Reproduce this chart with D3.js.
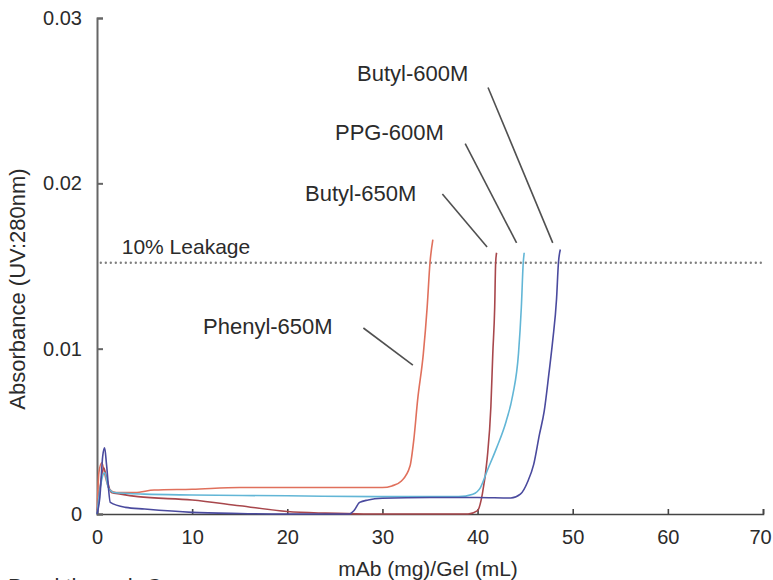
<!DOCTYPE html>
<html>
<head>
<meta charset="utf-8">
<script src="https://cdn.jsdelivr.net/npm/d3@7"></script>
<style>
  body { margin: 0; background: #fff; }
  svg { display: block; font-family: "Liberation Sans", Arial, sans-serif; }
</style>
</head>
<body>
<div id="chart"></div>
<script>
// x = mAb (mg)/Gel (mL), y = absorbance
const xTicks = [0, 10, 20, 30, 40, 50, 60, 70];
const yTicks = [0, 0.01, 0.02, 0.03];
const yTickLabels = ["0", "0.01", "0.02", "0.03"];
const leakage = 0.0152;

const phenyl650X = [0, 0.2, 0.5, 0.9, 1.3, 2, 4, 6, 10, 15, 20, 25, 30, 31, 32, 32.9, 33.3, 33.7, 34.3, 34.7, 35.0, 35.3];
const phenyl650Y = [0, 0.0025, 0.0031, 0.0022, 0.0015, 0.0013, 0.0013, 0.00145, 0.0015, 0.0016, 0.0016, 0.0016, 0.0016, 0.0017, 0.0020, 0.0029, 0.0045, 0.0069, 0.0097, 0.0125, 0.0152, 0.0166];

const butyl650X = [0, 0.3, 0.7, 1.0, 1.5, 2.5, 4.3, 10, 15, 20, 24, 28, 35, 39, 40, 40.5, 41, 41.4, 41.6, 41.8, 41.9, 42.0];
const butyl650Y = [0, 0.0015, 0.0028, 0.0022, 0.0013, 0.0012, 0.00105, 0.00085, 0.0005, 0.00015, 0.00005, 0, 0, 0, 0.0002, 0.0012, 0.0033, 0.0065, 0.0097, 0.0125, 0.0152, 0.0158];

const ppg600X = [0, 0.4, 0.8, 1.2, 1.8, 5, 10, 20, 30, 38, 39.5, 40.3, 41, 42, 43.0, 43.7, 44.3, 44.6, 44.8, 44.9];
const ppg600Y = [0, 0.0018, 0.0025, 0.0016, 0.0013, 0.0012, 0.00115, 0.0011, 0.00105, 0.00105, 0.0012, 0.0016, 0.0026, 0.0040, 0.0056, 0.0072, 0.0097, 0.0125, 0.0152, 0.0158];

const butyl600X = [0, 0.3, 0.6, 0.8, 1.0, 1.4, 3, 5, 10, 15, 20, 26.5, 27, 27.6, 28.5, 30, 35, 40, 43.5, 44.5, 45.3, 45.9, 46.5, 47, 47.5, 47.9, 48.3, 48.5, 48.7];
const butyl600Y = [0, 0.001, 0.0035, 0.004, 0.003, 0.0007, 0.0004, 0.0003, 0.0001, 0.00003, 0, 0, 0.0002, 0.0007, 0.00085, 0.00095, 0.001, 0.001, 0.00097, 0.0012, 0.002, 0.003, 0.0048, 0.0062, 0.0085, 0.0105, 0.013, 0.0152, 0.016];

const seriesNames = ["Phenyl-650M", "Butyl-650M", "PPG-600M", "Butyl-600M"];
const seriesX = [phenyl650X, butyl650X, ppg600X, butyl600X];
const seriesY = [phenyl650Y, butyl650Y, ppg600Y, butyl600Y];
const seriesColors = ["#e0705c", "#a8474c", "#62b6d6", "#4a4a9e"];

const width = 773, height = 580;
const margin = { top: 18, right: 10, bottom: 66, left: 97 };

const svg = d3.select("#chart").append("svg")
    .attr("width", width)
    .attr("height", height);

const x = d3.scaleLinear().domain([0, 70]).range([margin.left, 763]);
const y = d3.scaleLinear().domain([0, 0.03]).range([height - margin.bottom, margin.top]);

// axes
const xAxis = svg.append("g")
    .attr("class", "x-axis")
    .attr("transform", `translate(0,${y(0)})`)
    .call(d3.axisBottom(x).tickValues(xTicks).tickSize(-5).tickPadding(16).tickFormat(d3.format("d")));

const yAxis = svg.append("g")
    .attr("class", "y-axis")
    .attr("transform", `translate(${x(0)},0)`)
    .call(d3.axisLeft(y).tickValues(yTicks).tickSize(-6).tickPadding(15).tickFormat((d, i) => yTickLabels[i]));

svg.selectAll(".x-axis path, .x-axis line").attr("stroke", "#444").attr("stroke-width", 1.6);
svg.selectAll(".y-axis path, .y-axis line").attr("stroke", "#666").attr("stroke-width", 2);
svg.selectAll(".x-axis text, .y-axis text")
    .attr("fill", "#2b2b2b")
    .attr("font-size", "20px")
    .attr("font-family", "Liberation Sans, Arial, sans-serif");

// last x label sits right at the edge of the picture
xAxis.selectAll(".tick text").filter(d => d === 70).attr("dx", "-3");

// 10% leakage line
svg.append("line")
    .attr("x1", x(0.4))
    .attr("x2", x(70))
    .attr("y1", y(leakage))
    .attr("y2", y(leakage))
    .attr("stroke", "#808080")
    .attr("stroke-width", 2.4)
    .attr("stroke-linecap", "round")
    .attr("stroke-dasharray", "0,5");

svg.append("text")
    .attr("x", x(2.6))
    .attr("y", y(leakage) - 9)
    .attr("font-size", "21px")
    .attr("fill", "#2b2b2b")
    .text("10% Leakage");

// curves
const line = d3.line()
    .x(d => x(d[0]))
    .y(d => y(d[1]))
    .curve(d3.curveMonotoneX);

seriesNames.forEach((name, i) => {
    svg.append("path")
        .datum(seriesX[i].map((v, j) => [v, seriesY[i][j]]))
        .attr("class", "curve")
        .attr("fill", "none")
        .attr("stroke", seriesColors[i])
        .attr("stroke-width", 1.6)
        .attr("d", line);
});

// labels with leader lines (anchor points in data units)
const labels = [
    { name: "Butyl-600M", tx: 357, ty: 81, from: [41.1, 0.0258], to: [47.9, 0.0164] },
    { name: "PPG-600M", tx: 335, ty: 140, from: [38.7, 0.0224], to: [44.1, 0.0164] },
    { name: "Butyl-650M", tx: 305, ty: 201, from: [36.3, 0.01935], to: [41.0, 0.01615] },
    { name: "Phenyl-650M", tx: 203, ty: 334, from: [28.0, 0.01125], to: [33.2, 0.0090] }
];

labels.forEach(l => {
    svg.append("text")
        .attr("x", l.tx)
        .attr("y", l.ty)
        .attr("font-size", "22px")
        .attr("fill", "#2b2b2b")
        .text(l.name);
    svg.append("line")
        .attr("x1", x(l.from[0]))
        .attr("y1", y(l.from[1]))
        .attr("x2", x(l.to[0]))
        .attr("y2", y(l.to[1]))
        .attr("stroke", "#505050")
        .attr("stroke-width", 1.6);
});

// axis titles
svg.append("text")
    .attr("x", 428)
    .attr("y", 576)
    .attr("text-anchor", "middle")
    .attr("font-size", "21px")
    .attr("fill", "#2b2b2b")
    .text("mAb (mg)/Gel (mL)");

svg.append("text")
    .attr("transform", "translate(25,289) rotate(-90)")
    .attr("text-anchor", "middle")
    .attr("font-size", "22px")
    .attr("fill", "#2b2b2b")
    .text("Absorbance (UV:280nm)");

// caption, cut by the bottom edge as in the source picture
svg.append("text")
    .attr("x", 8)
    .attr("y", 594)
    .attr("font-size", "22px")
    .attr("fill", "#2b2b2b")
    .text("Breakthrough Curves");
</script>
</body>
</html>
